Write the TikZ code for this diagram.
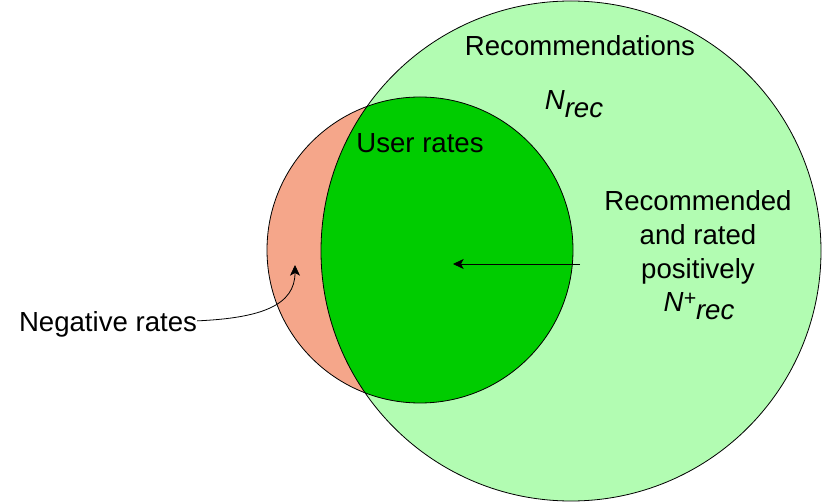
\documentclass[tikz,border=0pt]{standalone}
\usepackage{fontspec}
\setmainfont{Liberation Sans}
\usetikzlibrary{arrows.meta}
\definecolor{recgreen}{RGB}{178,252,178}
\definecolor{ratedgreen}{RGB}{0,204,0}
\definecolor{negsalmon}{RGB}{245,166,138}
\tikzset{lbl/.style={font=\fontsize{20.7}{25.5}\selectfont,inner sep=0pt},
         ptr/.style={-{Stealth[length=8pt,width=7.5pt,inset=2pt]},line width=.6pt},
         rim/.style={draw=black,line width=.6pt}}
\newcommand{\Nsub}{\raisebox{-6pt}{rec}}

\begin{document}
\begin{tikzpicture}[x=.75pt,y=-.75pt]
  \useasboundingbox (0,0) rectangle (822,502);
  % sets
  \fill[recgreen] (571,251) circle[radius=187.5pt];
  \fill[negsalmon] (420,250) circle[radius=114.75pt];
  \begin{scope}
    \clip (571,251) circle[radius=187.5pt];
    \fill[ratedgreen] (420,250) circle[radius=114.75pt];
  \end{scope}
  \draw[rim] (571,251) circle[radius=187.5pt];
  \draw[rim] (420,250) circle[radius=114.75pt];
  % labels
  \node[lbl,anchor=base] (recs) at (580,56) {Recommendations};
  \node[lbl,anchor=base] (nrec) at (574,110) {\itshape N\Nsub};
  \node[lbl,anchor=base] (rates) at (420,153) {User rates};
  \node[lbl,anchor=north,align=center] (recpos) at (698,190)
    {Recommended\\and rated\\positively};
  \node[lbl,anchor=base] (nrecpos) at (699,312)
    {\itshape N\raisebox{4.5pt}{\fontsize{16}{16}\selectfont+}\Nsub};
  \node[lbl,anchor=base] (neg) at (108,332) {Negative rates};
  % pointers
  \coordinate (negtip) at (295,265);
  \coordinate (posfrom) at (580,264);
  \coordinate (posto) at (453,264);
  \draw[ptr] ([yshift=3pt]neg.east) .. controls (262,318) and (295,305) .. (negtip);
  \draw[ptr] (posfrom) -- (posto);
\end{tikzpicture}
\end{document}
